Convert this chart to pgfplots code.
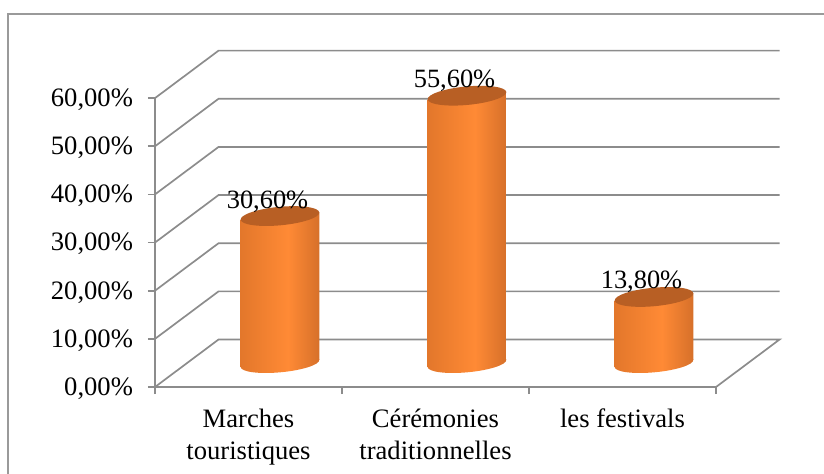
\documentclass[border=0pt]{standalone}
\usepackage{pgfplots}
\usepackage{pgfplotstable}
\usepackage{fontspec}
\setmainfont{Liberation Serif}
\pgfplotsset{compat=1.18}
\definecolor{axisgray}{HTML}{8C8C8C}
\definecolor{framegray}{HTML}{9A9A9A}
\definecolor{cyltop}{HTML}{B85F24}
\definecolor{cylA}{HTML}{B55C20}
\definecolor{cylB}{HTML}{E0752A}
\definecolor{cylC}{HTML}{FF8A35}
\definecolor{cylD}{HTML}{D06C28}
\definecolor{cylE}{HTML}{8E4A1C}
\pgfdeclarehorizontalshading{cyl}{100bp}{
  color(0bp)=(cylA); color(22bp)=(cylB); color(55bp)=(cylC);
  color(78bp)=(cylD); color(100bp)=(cylE)}
\pgfdeclareplotmark{cylbase}{%
  \pgfpathellipse{\pgfpointorigin}{\pgfpoint{39.33bp}{3.65bp}}{\pgfpoint{-0.82bp}{8.86bp}}%
  \pgfshadepath{cyl}{0}\pgfusepath{discard}}
\pgfdeclareplotmark{cyltopmark}{%
  \pgfsetfillcolor{cyltop}%
  \pgfpathellipse{\pgfpointorigin}{\pgfpoint{39.33bp}{3.65bp}}{\pgfpoint{-0.82bp}{9.2bp}}%
  \pgfusepathqfill}
\pgfplotstableread{
x y
0 30.6
1 55.6
2 13.8
}\values
\begin{document}
\begin{tikzpicture}
\fontsize{26.7}{32}\selectfont
\path[use as bounding box] (-155bp,-87bp) rectangle (669bp,387bp);
\draw[framegray,line width=1.5bp] (-147bp,-87bp) -- (-147bp,373bp) -- (669bp,373bp);
\begin{axis}[
  at={(0,0)}, anchor=south west,
  scale only axis, width=561bp, height=288.9bp,
  xmin=-0.5, xmax=2.5, ymin=0, ymax=60,
  clip=false,
  axis x line*=bottom, axis y line*=left,
  axis line style={axisgray,line width=1.7bp,-},
  tick style={axisgray,line width=1.7bp},
  tick align=outside,
  ytick={0,10,20,30,40,50,60},
  xtick={0,1,2},
  xticklabels={{Marches\\touristiques},{Cérémonies\\traditionnelles},{les festivals}},
  minor xtick={-0.5,0.5,1.5,2.5},
  major tick length=7bp,
  minor tick length=7bp,
  x tick style={draw=none},
  minor x tick style={draw=axisgray,line width=1.7bp},
  every x tick label/.style={align=center,anchor=north,yshift=-6bp,font=\fontsize{26.7}{32}\selectfont,text=black},
  every y tick label/.style={anchor=east,xshift=-6bp,yshift=-1.5bp,font=\fontsize{26.7}{32}\selectfont,text=black},
  yticklabel={\pgfmathprintnumber[fixed,fixed zerofill,precision=2,use comma,assume math mode=true]{\tick}\%},
]
\addplot[axisgray,line width=1.7bp] coordinates {(-0.5,0)(-0.16,9.865)(2.84,9.865)(2.5,0)};
\addplot[axisgray,line width=1.7bp] coordinates {(-0.5,10)(-0.16,19.865)(2.84,19.865)};
\addplot[axisgray,line width=1.7bp] coordinates {(-0.5,20)(-0.16,29.865)(2.84,29.865)};
\addplot[axisgray,line width=1.7bp] coordinates {(-0.5,30)(-0.16,39.865)(2.84,39.865)};
\addplot[axisgray,line width=1.7bp] coordinates {(-0.5,40)(-0.16,49.865)(2.84,49.865)};
\addplot[axisgray,line width=1.7bp] coordinates {(-0.5,50)(-0.16,59.865)(2.84,59.865)};
\addplot[axisgray,line width=1.7bp] coordinates {(-0.5,60)(-0.16,69.865)(2.84,69.865)};
\end{axis}
\begin{axis}[
  at={(31.5bp,23.6bp)}, anchor=south west,
  scale only axis, width=561bp, height=288.9bp,
  xmin=-0.5, xmax=2.5, ymin=0, ymax=60,
  clip=false, axis lines=none,
]
\addplot[only marks,mark=cylbase] table[x=x,y expr=0] {\values};
% bodies, tilted with the ellipses
\addplot[draw=none,shade,shading=cyl] coordinates {(-0.2112,-0.76)(-0.2112,29.84)(0.2112,31.36)(0.2112,0.76)} -- cycle;
\addplot[draw=none,shade,shading=cyl] coordinates {(0.7888,-0.76)(0.7888,54.84)(1.2112,56.36)(1.2112,0.76)} -- cycle;
\addplot[draw=none,shade,shading=cyl] coordinates {(1.7888,-0.76)(1.7888,13.04)(2.2112,14.56)(2.2112,0.76)} -- cycle;
\addplot[only marks,mark=cyltopmark,
  nodes near coords={\pgfmathprintnumber[fixed,fixed zerofill,precision=2,use comma,assume math mode=true]{\pgfplotspointmeta}\%},
  every node near coord/.style={anchor=base,xshift=-12.5bp,font=\fontsize{26.5}{30}\selectfont,text=black,inner sep=0pt,yshift=8bp}
] table[x=x,y=y] {\values};
\end{axis}
\end{tikzpicture}
\end{document}
